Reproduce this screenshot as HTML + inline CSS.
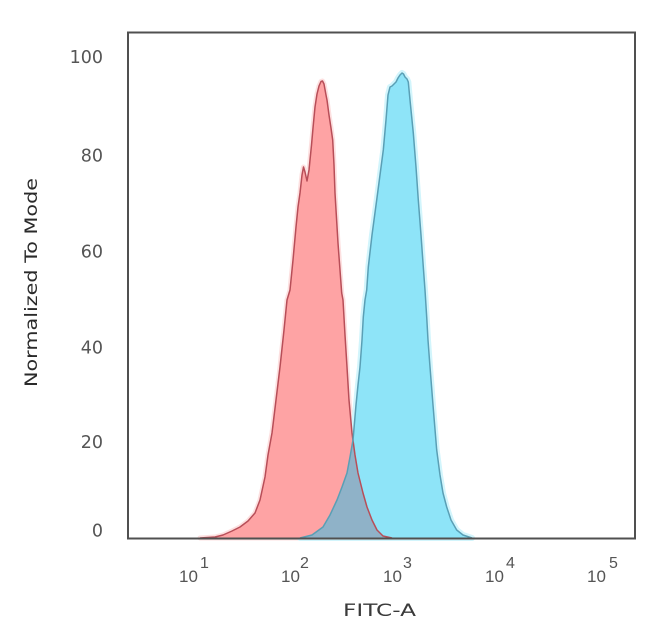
<!DOCTYPE html>
<html>
<head>
<meta charset="utf-8">
<style>
html,body{margin:0;padding:0;background:#fff;}
svg{display:block;}
</style>
</head>
<body>
<svg width="650" height="634" viewBox="0 0 650 634" xmlns="http://www.w3.org/2000/svg">
<defs>
<clipPath id="redclip">
<path d="M200,538 L215,537 L223,535 L232,531 L240,527 L248,521 L255,513 L260,500 L265,477 L268,455 L272,433 L276,400 L280,367 L284,330 L287,300 L290,290 L293,260 L296,227 L298,207 L300,193 L302,175 L303.5,167 L305,172 L307,181 L309,170 L311.5,145 L313,128 L315,107 L317,94 L319,86 L321,81.5 L322.5,81 L324,84 L326,95 L327,100 L329,115 L331,128 L332.7,140 L334,165 L335,193 L336.5,218 L338,243 L340,270 L341.7,293 L343,300 L345,335 L347,367 L349,400 L352,433 L355,455 L358,473 L363,493 L367,507 L372,520 L377,530 L383,536 L392,538 Z"/>
</clipPath>
</defs>

<!-- halos -->
<path d="M200,538 L215,537 L223,535 L232,531 L240,527 L248,521 L255,513 L260,500 L265,477 L268,455 L272,433 L276,400 L280,367 L284,330 L287,300 L290,290 L293,260 L296,227 L298,207 L300,193 L302,175 L303.5,167 L305,172 L307,181 L309,170 L311.5,145 L313,128 L315,107 L317,94 L319,86 L321,81.5 L322.5,81 L324,84 L326,95 L327,100 L329,115 L331,128 L332.7,140 L334,165 L335,193 L336.5,218 L338,243 L340,270 L341.7,293 L343,300 L345,335 L347,367 L349,400 L352,433 L355,455 L358,473 L363,493 L367,507 L372,520 L377,530 L383,536 L392,538 Z" fill="none" stroke="#fde0e0" stroke-width="5" stroke-linejoin="round"/>
<path d="M300,538 L312,535 L323,527 L330,515 L337,500 L342,487 L347,473 L350,457 L353,440 L356,405 L358,385 L360,367 L362,340 L363.3,317 L365,300 L366.7,290 L368.3,267 L372,235 L376.7,200 L380,175 L383.3,150 L386,120 L388,95 L390,87 L392,86 L394,84 L396,82 L398,78 L400,75 L402,73 L403.5,74 L405,77 L407,79 L408.3,82 L410,100 L411.5,115 L413.3,133 L416,167 L418.3,200 L421,235 L423.3,267 L425,290 L426.7,317 L428,340 L430,367 L433,405 L436.7,450 L440,475 L443,493 L446.7,507 L451,520 L456.7,530 L463,535 L472,538 Z" fill="none" stroke="#d2f5fc" stroke-width="6" stroke-linejoin="round"/>

<!-- red fill -->
<path d="M200,538 L215,537 L223,535 L232,531 L240,527 L248,521 L255,513 L260,500 L265,477 L268,455 L272,433 L276,400 L280,367 L284,330 L287,300 L290,290 L293,260 L296,227 L298,207 L300,193 L302,175 L303.5,167 L305,172 L307,181 L309,170 L311.5,145 L313,128 L315,107 L317,94 L319,86 L321,81.5 L322.5,81 L324,84 L326,95 L327,100 L329,115 L331,128 L332.7,140 L334,165 L335,193 L336.5,218 L338,243 L340,270 L341.7,293 L343,300 L345,335 L347,367 L349,400 L352,433 L355,455 L358,473 L363,493 L367,507 L372,520 L377,530 L383,536 L392,538 Z" fill="#fea3a4" stroke="none"/>

<!-- blue fill -->
<path d="M300,538 L312,535 L323,527 L330,515 L337,500 L342,487 L347,473 L350,457 L353,440 L356,405 L358,385 L360,367 L362,340 L363.3,317 L365,300 L366.7,290 L368.3,267 L372,235 L376.7,200 L380,175 L383.3,150 L386,120 L388,95 L390,87 L392,86 L394,84 L396,82 L398,78 L400,75 L402,73 L403.5,74 L405,77 L407,79 L408.3,82 L410,100 L411.5,115 L413.3,133 L416,167 L418.3,200 L421,235 L423.3,267 L425,290 L426.7,317 L428,340 L430,367 L433,405 L436.7,450 L440,475 L443,493 L446.7,507 L451,520 L456.7,530 L463,535 L472,538 Z" fill="#8ee4f8" stroke="none"/>

<!-- overlap -->
<path clip-path="url(#redclip)" d="M300,538 L312,535 L323,527 L330,515 L337,500 L342,487 L347,473 L350,457 L353,440 L356,405 L358,385 L360,367 L362,340 L363.3,317 L365,300 L366.7,290 L368.3,267 L372,235 L376.7,200 L380,175 L383.3,150 L386,120 L388,95 L390,87 L392,86 L394,84 L396,82 L398,78 L400,75 L402,73 L403.5,74 L405,77 L407,79 L408.3,82 L410,100 L411.5,115 L413.3,133 L416,167 L418.3,200 L421,235 L423.3,267 L425,290 L426.7,317 L428,340 L430,367 L433,405 L436.7,450 L440,475 L443,493 L446.7,507 L451,520 L456.7,530 L463,535 L472,538 Z" fill="#8fb2c8" stroke="none"/>

<!-- strokes -->
<path d="M200,538 L215,537 L223,535 L232,531 L240,527 L248,521 L255,513 L260,500 L265,477 L268,455 L272,433 L276,400 L280,367 L284,330 L287,300 L290,290 L293,260 L296,227 L298,207 L300,193 L302,175 L303.5,167 L305,172 L307,181 L309,170 L311.5,145 L313,128 L315,107 L317,94 L319,86 L321,81.5 L322.5,81 L324,84 L326,95 L327,100 L329,115 L331,128 L332.7,140 L334,165 L335,193 L336.5,218 L338,243 L340,270 L341.7,293 L343,300 L345,335 L347,367 L349,400 L352,433 L355,455 L358,473 L363,493 L367,507 L372,520 L377,530 L383,536 L392,538" fill="none" stroke="#b84e58" stroke-width="1.5" stroke-linejoin="round"/>
<path d="M300,538 L312,535 L323,527 L330,515 L337,500 L342,487 L347,473 L350,457 L353,440 L356,405 L358,385 L360,367 L362,340 L363.3,317 L365,300 L366.7,290 L368.3,267 L372,235 L376.7,200 L380,175 L383.3,150 L386,120 L388,95 L390,87 L392,86 L394,84 L396,82 L398,78 L400,75 L402,73 L403.5,74 L405,77 L407,79 L408.3,82 L410,100 L411.5,115 L413.3,133 L416,167 L418.3,200 L421,235 L423.3,267 L425,290 L426.7,317 L428,340 L430,367 L433,405 L436.7,450 L440,475 L443,493 L446.7,507 L451,520 L456.7,530 L463,535 L472,538" fill="none" stroke="#5a9fb5" stroke-width="1.5" stroke-linejoin="round"/>

<!-- frame -->
<rect x="128" y="32.5" width="507" height="506" fill="none" stroke="#505050" stroke-width="2"/>

<!-- y tick labels -->
<g font-family="'DejaVu Sans', 'Liberation Sans', sans-serif" font-size="17.5" fill="#555" text-anchor="end">
<text x="103" y="63">100</text>
<text x="103" y="161.5">80</text>
<text x="103" y="257.5">60</text>
<text x="103" y="353.5">40</text>
<text x="103" y="448">20</text>
<text x="103" y="536.5">0</text>
</g>

<!-- x tick labels -->
<g font-family="'Liberation Sans', 'DejaVu Sans', sans-serif" fill="#555">
<text x="179" y="582" font-size="17">10</text>
<text x="200" y="568" font-size="16">1</text>
<text x="281" y="582" font-size="17">10</text>
<text x="300" y="568" font-size="16">2</text>
<text x="383" y="582" font-size="17">10</text>
<text x="403" y="568" font-size="16">3</text>
<text x="485" y="582" font-size="17">10</text>
<text x="506" y="568" font-size="16">4</text>
<text x="587" y="582" font-size="17">10</text>
<text x="609" y="568" font-size="16">5</text>
</g>

<!-- axis titles -->
<text x="343" y="616" font-family="'DejaVu Sans', 'Liberation Sans', sans-serif" font-size="17" fill="#3a3a3a" textLength="73" lengthAdjust="spacingAndGlyphs">FITC-A</text>
<text transform="translate(37,282.5) rotate(-90)" x="0" y="0" text-anchor="middle" font-family="'DejaVu Sans', 'Liberation Sans', sans-serif" font-size="17" fill="#2a2a2a" textLength="209" lengthAdjust="spacingAndGlyphs">Normalized To Mode</text>
</svg>
</body>
</html>
